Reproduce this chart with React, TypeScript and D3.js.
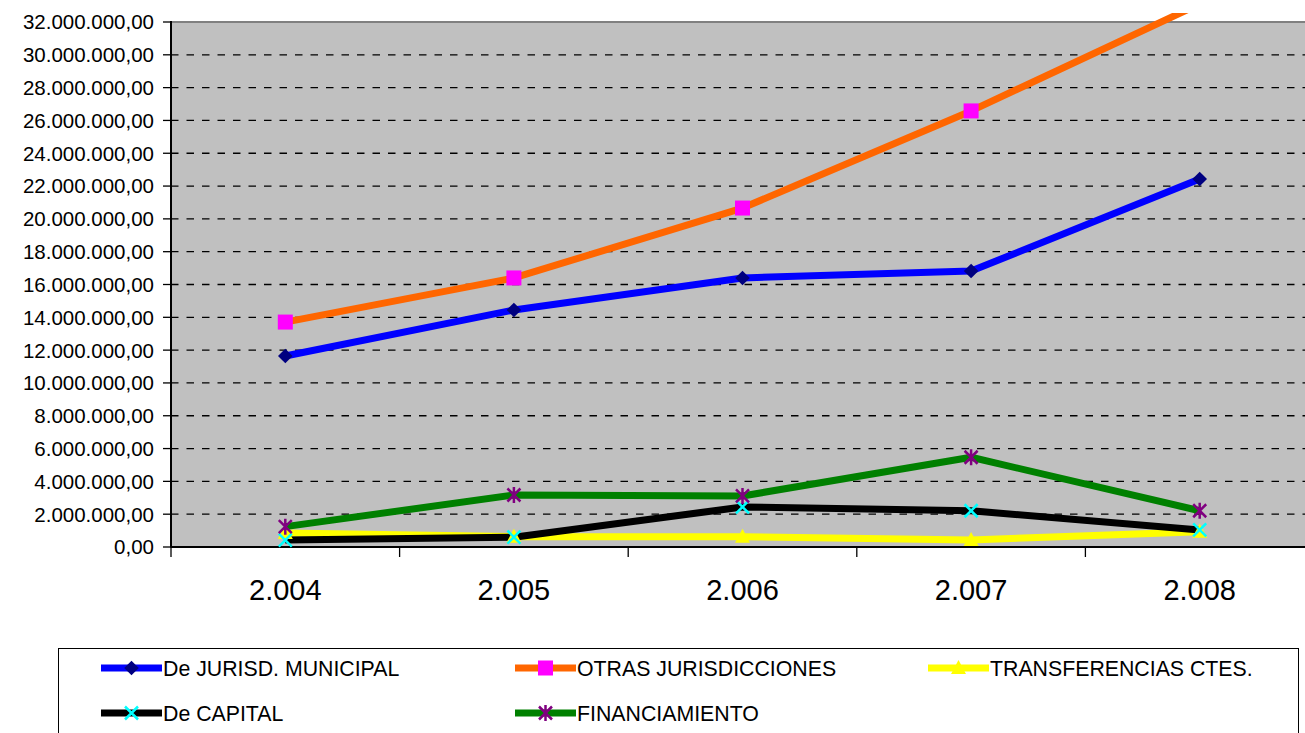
import React from "react";
import * as d3 from "d3";

const categories = ["2.004", "2.005", "2.006", "2.007", "2.008"];
const yTicks = [0, 2e6, 4e6, 6e6, 8e6, 10e6, 12e6, 14e6, 16e6, 18e6, 20e6, 22e6, 24e6, 26e6, 28e6, 30e6, 32e6];

const jurisdMunicipal = [11.64e6, 14.45e6, 16.4e6, 16.82e6, 22.43e6];
const otrasJurisdicciones = [13.71e6, 16.4e6, 20.66e6, 26.58e6, 33.1e6];
const transferenciasCtes = [0.85e6, 0.63e6, 0.63e6, 0.43e6, 0.93e6];
const deCapital = [0.42e6, 0.6e6, 2.44e6, 2.21e6, 1.04e6];
const financiamiento = [1.24e6, 3.17e6, 3.11e6, 5.47e6, 2.21e6];

type Marker = "diamond" | "square" | "triangle" | "x" | "star";

const series: { name: string; values: number[]; color: string; marker: Marker; markerColor: string }[] = [
  { name: "De JURISD. MUNICIPAL", values: jurisdMunicipal, color: "#0000FF", marker: "diamond", markerColor: "#000080" },
  { name: "OTRAS JURISDICCIONES", values: otrasJurisdicciones, color: "#FF6600", marker: "square", markerColor: "#FF00FF" },
  { name: "TRANSFERENCIAS CTES.", values: transferenciasCtes, color: "#FFFF00", marker: "triangle", markerColor: "#FFFF00" },
  { name: "De CAPITAL", values: deCapital, color: "#000000", marker: "x", markerColor: "#00FFFF" },
  { name: "FINANCIAMIENTO", values: financiamiento, color: "#008000", marker: "star", markerColor: "#800080" },
];

const locale = d3.formatLocale({ decimal: ",", thousands: ".", grouping: [3], currency: ["", ""] });
const fmt = locale.format(",.2f");

function MarkerShape({ type, x, y, color }: { type: Marker; x: number; y: number; color: string }) {
  const s = 7.3;
  if (type === "diamond") {
    return <path d={`M${x},${y - s} L${x + s},${y} L${x},${y + s} L${x - s},${y} Z`} fill={color} />;
  }
  if (type === "square") {
    return <rect x={x - 7.5} y={y - 7.5} width={15} height={15} fill={color} />;
  }
  if (type === "triangle") {
    return <path d={`M${x},${y - 8} L${x + 7.5},${y + 6} L${x - 7.5},${y + 6} Z`} fill={color} />;
  }
  if (type === "x") {
    const r = 6.5;
    return (
      <path d={`M${x - r},${y - r} L${x + r},${y + r} M${x - r},${y + r} L${x + r},${y - r}`} stroke={color} strokeWidth={2.5} fill="none" />
    );
  }
  const r = 6.5;
  return (
    <path
      d={`M${x - r},${y - r} L${x + r},${y + r} M${x - r},${y + r} L${x + r},${y - r} M${x},${y - r - 1.5} L${x},${y + r + 1.5}`}
      stroke={color}
      strokeWidth={2.5}
      fill="none"
    />
  );
}

export default function App() {
  const width = 1305;
  const height = 733;
  const x0 = 171;
  const x1 = 171 + 5 * 228.6;
  const yBottom = 547;
  const yTop = 22;

  const xBand = d3.scaleBand<string>().domain(categories).range([x0, x1]).padding(0);
  const y = d3.scaleLinear().domain([0, 32e6]).range([yBottom, yTop]);
  const cx = (c: string) => (xBand(c) as number) + xBand.bandwidth() / 2;

  const line = d3
    .line<number>()
    .x((_, i) => cx(categories[i]))
    .y((v) => y(v));

  const legendCols = [101, 515, 928];
  const legendRows = [668, 713];

  return (
    <svg width={width} height={height} style={{ position: "absolute", left: 0, top: 0, fontFamily: "'Liberation Sans', Arial, sans-serif" }}>
      <defs>
        <clipPath id="clipLines">
          <rect x={0} y={13} width={width} height={height} />
        </clipPath>
      </defs>
      <rect x={0} y={0} width={width} height={height} fill="#FFFFFF" />
      {/* plot area */}
      <rect x={x0} y={yTop} width={x1 - x0} height={yBottom - yTop} fill="#C0C0C0" stroke="#808080" strokeWidth={2} />
      {/* gridlines */}
      {yTicks.filter((t) => t > 0 && t < 32e6).map((t) => (
        <line key={t} x1={x0} x2={x1} y1={y(t)} y2={y(t)} stroke="#000" strokeWidth={1.3} strokeDasharray="7.5,8" />
      ))}
      {/* axes */}
      <line x1={x0} x2={x0} y1={yTop - 1} y2={yBottom} stroke="#000" strokeWidth={2} />
      <line x1={x0} x2={x1} y1={yBottom} y2={yBottom} stroke="#000" strokeWidth={2} />
      {yTicks.map((t) => (
        <g key={t}>
          <line x1={x0 - 8} x2={x0} y1={y(t)} y2={y(t)} stroke="#000" strokeWidth={1.3} />
          <text x={154} y={y(t)} dy="0.36em" textAnchor="end" fontSize={20.5} fill="#000">
            {fmt(t)}
          </text>
        </g>
      ))}
      {categories.map((c) => (
        <g key={c}>
          <line x1={xBand(c) as number} x2={xBand(c) as number} y1={yBottom} y2={yBottom + 10} stroke="#000" strokeWidth={1.3} />
          <text x={cx(c)} y={600} textAnchor="middle" fontSize={29} fill="#000">
            {c}
          </text>
        </g>
      ))}
      {/* lines */}
      <g clipPath="url(#clipLines)">
        {series.map((s) => (
          <path key={s.name} d={line(s.values) as string} fill="none" stroke={s.color} strokeWidth={7} strokeLinejoin="round" />
        ))}
        {series.map((s) => (
          <g key={s.name + "m"}>
            {s.values.map((v, i) => (
              <MarkerShape key={i} type={s.marker} x={cx(categories[i])} y={y(v)} color={s.markerColor} />
            ))}
          </g>
        ))}
      </g>
      {/* legend */}
      <rect x={58.5} y={648.5} width={1240} height={120} fill="#FFFFFF" stroke="#000" strokeWidth={1} />
      {series.map((s, i) => {
        const lx = legendCols[i % 3];
        const ly = legendRows[Math.floor(i / 3)];
        return (
          <g key={s.name + "l"}>
            <line x1={lx} x2={lx + 61} y1={ly} y2={ly} stroke={s.color} strokeWidth={7} />
            <MarkerShape type={s.marker} x={lx + 30.5} y={ly} color={s.markerColor} />
            <text x={lx + 62} y={ly} dy="0.36em" fontSize={21.3} fill="#000">
              {s.name}
            </text>
          </g>
        );
      })}
    </svg>
  );
}
